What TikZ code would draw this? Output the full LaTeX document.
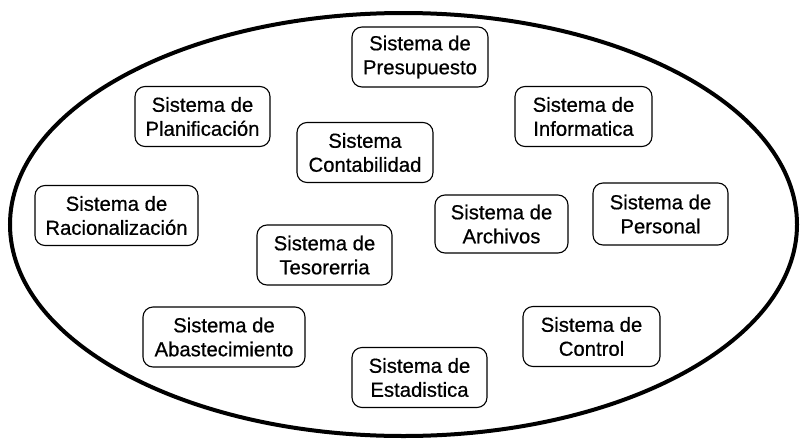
\documentclass[tikz,border=0pt]{standalone}
\usepackage{fontspec}
\setmainfont{Liberation Sans}
\newfontfamily\sysfont[FakeBold=0.6]{Liberation Sans}
\usetikzlibrary{shapes.geometric}
\begin{document}
\begin{tikzpicture}[x=1pt,y=-1pt,
  sysbox/.style={draw=black, line width=1.1pt, rounded corners=10pt, align=center,
    inner sep=0pt, minimum height=60pt, font=\sysfont\fontsize{20.3}{24}\selectfont},
  outerline/.style={draw=black, line width=4pt}]
\useasboundingbox (0,0) rectangle (802,439);
\node[outerline, ellipse, minimum width=787pt, minimum height=423pt, inner sep=0pt] (world) at (403.5,224.5) {};
\node[sysbox, minimum width=136pt] (pres) at (420,57) {Sistema de\\Presupuesto};
\node[sysbox, minimum width=135pt] (plan) at (202.5,116.5) {Sistema de\\Planificación};
\node[sysbox, minimum width=137pt] (info) at (583.5,116.5) {Sistema de\\Informatica};
\node[sysbox, minimum width=136pt] (cont) at (365,152.5) {Sistema\\Contabilidad};
\node[sysbox, minimum width=163pt] (rac) at (116.5,215.5) {Sistema de\\Racionalización};
\node[sysbox, minimum width=133pt, minimum height=58pt] (arch) at (501.5,224) {Sistema de\\Archivos};
\node[sysbox, minimum width=135pt, minimum height=62pt] (pers) at (660.5,214) {Sistema de\\Personal};
\node[sysbox, minimum width=135pt] (tes) at (324.5,255) {Sistema de\\Tesorerria};
\node[sysbox, minimum width=162pt] (abas) at (224,337) {Sistema de\\Abastecimiento};
\node[sysbox, minimum width=135pt] (est) at (419.5,377.5) {Sistema de\\Estadistica};
\node[sysbox, minimum width=137pt] (ctrl) at (591.5,336.5) {Sistema de\\Control};
\end{tikzpicture}
\end{document}
